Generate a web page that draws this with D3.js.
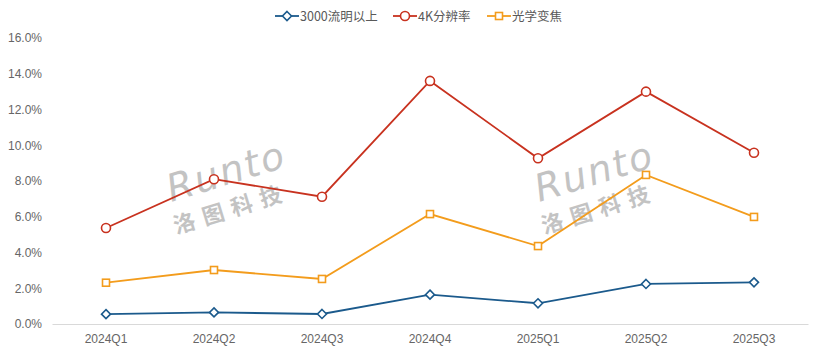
<!DOCTYPE html>
<html><head><meta charset="utf-8">
<script src="https://cdn.jsdelivr.net/npm/d3@7"></script>
<style>body{margin:0;background:#fff}svg{display:block}</style>
</head><body>
<svg id="c" width="830" height="356"></svg>
<script>
const categories = ["2024Q1","2024Q2","2024Q3","2024Q4","2025Q1","2025Q2","2025Q3"];
const seriesNames = ["3000流明以上","4K分辨率","光学变焦"];
const lumen3000 = [0.55,0.65,0.56,1.64,1.16,2.24,2.33];
const res4k = [5.37,8.1,7.12,13.6,9.27,13.0,9.58];
const opticalZoom = [2.31,3.02,2.52,6.15,4.36,8.34,5.99];
const yTicks = [0,2,4,6,8,10,12,14,16];

const colors = ["#1b5a8c","#c8321f","#f39c1c"];
const shapes = ["diamond","circle","square"];
const data = [lumen3000,res4k,opticalZoom];

const svg = d3.select("#c");
const x = d3.scaleBand().domain(categories).range([52,808]);
const y = d3.scaleLinear().domain([0,16]).range([324,38]);
const font = "'Liberation Sans', Arial, sans-serif";

// y axis labels
const ya = svg.append("g").attr("transform","translate(42,0)")
  .call(d3.axisLeft(y).tickValues(yTicks).tickSize(0).tickPadding(0).tickFormat(d=>d.toFixed(1)+"%"));
ya.select(".domain").remove();
ya.selectAll("text").attr("fill","#666").style("font-family",font).style("font-size","12px");

// x axis
const xa = svg.append("g").attr("transform","translate(0,324)")
  .call(d3.axisBottom(x).tickSize(0).tickPadding(10));
xa.select(".domain").attr("stroke","#d9d9d9").attr("stroke-width",1);
xa.selectAll("text").attr("fill","#666").style("font-family",font).style("font-size","12px");

// watermarks
function watermark(cx, cy){
  const g = svg.append("g").attr("transform",`translate(${cx},${cy}) rotate(-17)`).attr("opacity",0.75);
  g.append("text").attr("x",0).attr("y",0).attr("text-anchor","middle")
    .style("font-family","'DejaVu Sans', sans-serif").style("font-style","italic").style("font-size","38px")
    .attr("fill","#b0b0b0").attr("letter-spacing","2px").text("Runto");
  g.append("text").attr("x",-6).attr("y",32).attr("text-anchor","middle")
    .style("font-family","'Noto Sans CJK SC', sans-serif").style("font-weight","bold").style("font-size","22px")
    .attr("fill","#b0b0b0").attr("letter-spacing","8px").text("洛图科技");
}
watermark(230,184);
watermark(598,184);

// lines and markers
const line = d3.line().x((d,i)=>x(categories[i])+x.bandwidth()/2).y(d=>y(d));
function marker(g, shape, cx, cy, col){
  if(shape==="circle") g.append("circle").attr("cx",cx).attr("cy",cy).attr("r",4.5)
    .attr("fill","#fff").attr("stroke",col).attr("stroke-width",1.6);
  else if(shape==="square") g.append("rect").attr("x",cx-3.5).attr("y",cy-3.5).attr("width",7).attr("height",7)
    .attr("fill","#fff").attr("stroke",col).attr("stroke-width",1.6);
  else g.append("path").attr("d",`M${cx},${cy-4.5}L${cx+4.5},${cy}L${cx},${cy+4.5}L${cx-4.5},${cy}Z`)
    .attr("fill","#fff").attr("stroke",col).attr("stroke-width",1.6);
}
data.forEach((vals,si)=>{
  const g = svg.append("g");
  g.append("path").datum(vals).attr("d",line).attr("fill","none").attr("stroke",colors[si]).attr("stroke-width",1.8);
  vals.forEach((v,i)=>marker(g,shapes[si],x(categories[i])+x.bandwidth()/2,y(v),colors[si]));
});

// legend
const legX = [275,393,487];
seriesNames.forEach((n,i)=>{
  const g = svg.append("g");
  g.append("line").attr("x1",legX[i]).attr("x2",legX[i]+24).attr("y1",16).attr("y2",16)
    .attr("stroke",colors[i]).attr("stroke-width",1.8);
  marker(g,shapes[i],legX[i]+12,16,colors[i]);
  g.append("text").attr("x",legX[i]+25).attr("y",20.5).attr("fill","#595959")
    .style("font-family","'Noto Sans CJK SC', sans-serif").style("font-size","12.5px").text(n);
});
</script>
</body></html>
